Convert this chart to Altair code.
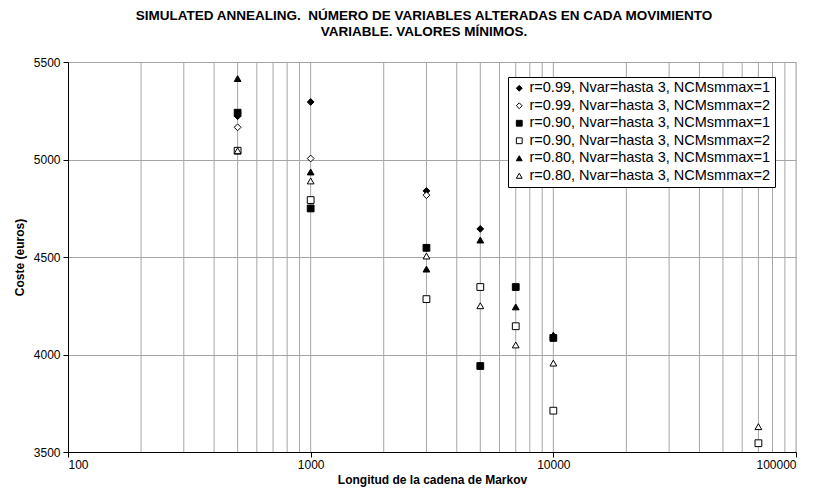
import altair as alt
import pandas as pd

series = [
    "r=0.99, Nvar=hasta 3, NCMsmmax=1",
    "r=0.99, Nvar=hasta 3, NCMsmmax=2",
    "r=0.90, Nvar=hasta 3, NCMsmmax=1",
    "r=0.90, Nvar=hasta 3, NCMsmmax=2",
    "r=0.80, Nvar=hasta 3, NCMsmmax=1",
    "r=0.80, Nvar=hasta 3, NCMsmmax=2",
]
shapes = ["diamond", "diamond", "square", "square", "triangle-up", "triangle-up"]
fills = ["black", "white", "black", "white", "black", "white"]
strokes = ["black"] * 6

s1_x = [500, 1000, 3000, 5000]
s1_y = [5222, 5295, 4839, 4644]
s2_x = [500, 1000, 3000, 5000]
s2_y = [5165, 5005, 4817, 4346]
s3_x = [500, 1000, 3000, 5000, 7000, 10000]
s3_y = [5240, 4749, 4547, 3941, 4346, 4085]
s4_x = [500, 1000, 3000, 5000, 7000, 10000, 70000]
s4_y = [5045, 4792, 4284, 4346, 4145, 3712, 3545]
s5_x = [500, 1000, 3000, 5000, 7000, 10000]
s5_y = [5415, 4936, 4438, 4587, 4244, 4100]
s6_x = [500, 1000, 3000, 5000, 7000, 10000, 70000]
s6_y = [5045, 4890, 4505, 4250, 4049, 3956, 3630]

x_decades = [100, 1000, 10000, 100000]
x_grid = [200, 300, 400, 500, 600, 700, 800, 900, 1000,
          2000, 3000, 4000, 5000, 6000, 7000, 8000, 9000, 10000,
          20000, 30000, 40000, 50000, 60000, 70000, 80000, 90000, 100000]
y_ticks = [3500, 4000, 4500, 5000, 5500]

rows = []
for name, xs, ys in zip(series, [s1_x, s2_x, s3_x, s4_x, s5_x, s6_x],
                        [s1_y, s2_y, s3_y, s4_y, s5_y, s6_y]):
    for a, b in zip(xs, ys):
        rows.append({"x": a, "y": b, "serie": name})
df = pd.DataFrame(rows)
grid_df = pd.DataFrame({"x": x_grid})

FONT = "Liberation Sans"
xscale = alt.Scale(type="log", domain=[100, 100000], nice=False)
xaxis = alt.Axis(values=x_decades, format="d", grid=False, domainColor="black",
                 tickColor="black", tickSize=5, labelFontSize=12, labelColor="black",
                 labelPadding=2, title="Longitud de la cadena de Markov",
                 titleFontSize=12, titleFontWeight="bold", titleColor="black",
                 titlePadding=4, labelFont=FONT, titleFont=FONT)

rules = alt.Chart(grid_df).mark_rule(color="#a6a6a6", strokeWidth=1).encode(
    x=alt.X("x:Q", scale=xscale, axis=xaxis)
)

leg = alt.Legend(title=None, orient="none", legendX=440, legendY=15)

points = alt.Chart(df).mark_point(filled=False, strokeWidth=1,
                                  size=46, opacity=1, fillOpacity=1).encode(
    x=alt.X("x:Q", scale=xscale, axis=xaxis),
    y=alt.Y("y:Q", scale=alt.Scale(domain=[3500, 5500], nice=False, zero=False),
            axis=alt.Axis(values=y_ticks, format="d", grid=True, gridColor="#a6a6a6",
                          domainColor="black", tickColor="black", tickSize=5,
                          labelFontSize=12, labelColor="black", labelPadding=3,
                          title="Coste (euros)", titleFontSize=12,
                          titleFontWeight="bold", titleColor="black",
                          titlePadding=7, labelFont=FONT, titleFont=FONT)),
    shape=alt.Shape("serie:N", scale=alt.Scale(domain=series, range=shapes),
                    sort=series, legend=leg),
    fill=alt.Fill("serie:N", scale=alt.Scale(domain=series, range=fills),
                  sort=series, legend=leg),
    stroke=alt.Stroke("serie:N", scale=alt.Scale(domain=series, range=strokes),
                      sort=series, legend=leg),
)

chart = alt.layer(rules, points).properties(
    width=728, height=390,
    padding={"left": 60, "top": 54, "right": 10, "bottom": 38},
    autosize=alt.AutoSizeParams(type="none"),
    title=alt.Title(
        ["SIMULATED ANNEALING.\u00a0 NÚMERO DE VARIABLES ALTERADAS EN CADA MOVIMIENTO",
         "VARIABLE. VALORES MÍNIMOS."],
        fontSize=13.5, font=FONT, fontWeight="bold", color="black",
        anchor="middle", offset=18, lineHeight=16, dx=-8),
).configure_view(stroke=None).configure(background="white").configure_legend(
    fillColor="white", strokeColor="black", padding=4, labelFontSize=14.5,
    labelFont=FONT, labelColor="black", labelLimit=0, symbolSize=34,
    symbolStrokeColor="black", symbolStrokeWidth=1, rowPadding=2.5,
    labelOffset=3, symbolOffset=0, cornerRadius=0,
)

chart.save("out.html", embed_options={"renderer": "svg", "actions": False})
